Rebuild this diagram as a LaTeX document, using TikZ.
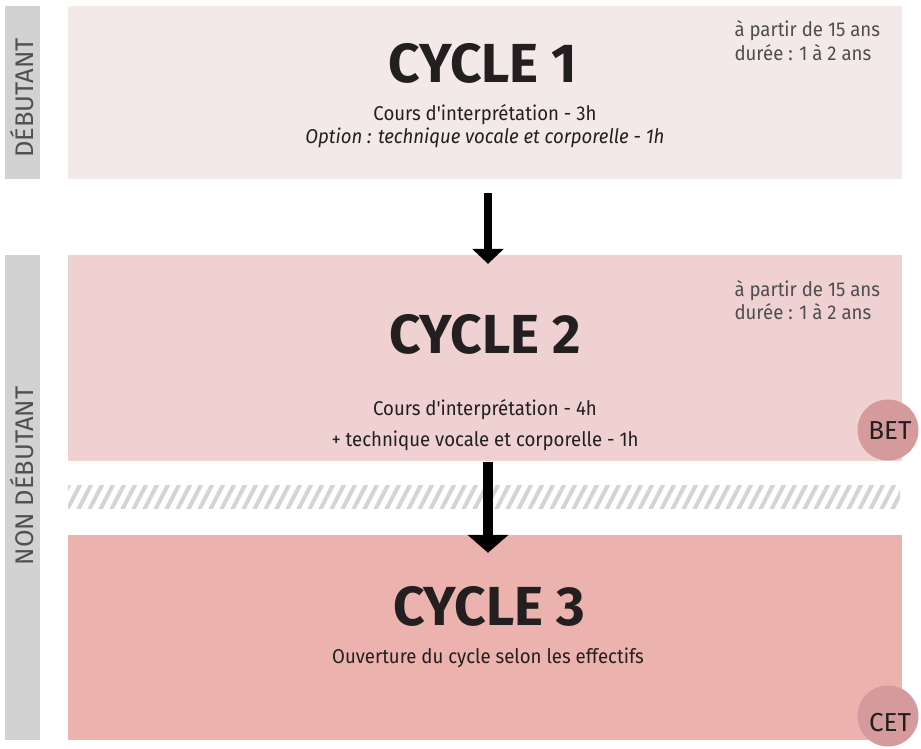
\documentclass[tikz,border=0pt]{standalone}
\usepackage{fontspec}
\setmainfont{Fira Sans}
\newfontfamily\narrowf{Fira Sans}[FakeStretch=0.93]
\newfontfamily\sidef{Fira Sans}
\newfontfamily\titlef{Fira Sans}
\usetikzlibrary{arrows.meta}
\definecolor{cA}{HTML}{F3E9E9}
\definecolor{cB}{HTML}{EED1D0}
\definecolor{cC}{HTML}{ECB2AD}
\definecolor{cCirc}{HTML}{D49A9C}
\definecolor{cSide}{HTML}{D2D2D2}
\definecolor{cHatch}{HTML}{D4D4D4}
\definecolor{cText}{HTML}{231F20}
\definecolor{cGray}{HTML}{4D4D4F}
\definecolor{cSideText}{HTML}{505050}
\begin{document}
\begin{tikzpicture}[x=1pt,y=-1pt,
  box/.style={rectangle, inner sep=0pt, draw=none},
  sidebox/.style={rectangle, inner sep=0pt, fill=cSide, minimum width=35pt},
  sidelabel/.style={rotate=90, text=cSideText, font=\sidef\fontsize{25.5}{27}\selectfont},
  title/.style={anchor=base, text=cText, font=\titlef\bfseries\fontsize{55}{60}\selectfont},
  sub/.style={anchor=base, text=cText, font=\narrowf\fontsize{20}{22}\selectfont},
  info/.style={anchor=base west, text=cGray, font=\narrowf\fontsize{20}{22}\selectfont},
  badge/.style={circle, fill=cCirc, inner sep=0pt, minimum size=61pt},
  badgetext/.style={text=cText, font=\sidef\fontsize{26}{28}\selectfont}
]
\useasboundingbox (0,0) rectangle (921,748);
\fill[white] (0,0) rectangle (921,748);

% side bars
\node[sidebox, minimum height=173pt] (s1) at (22.5,92.5) {};
\node[sidebox, minimum height=485pt] (s2) at (22.5,497.5) {};
\node[sidelabel] (s1l) at (22.5,98) {DÉBUTANT};
\node[sidelabel] (s2l) at (22.5,476) {NON DÉBUTANT};

% boxes
\node[box, fill=cA, minimum width=834pt, minimum height=173pt] (b1) at (485,92.5) {};
\node[box, fill=cB, minimum width=834pt, minimum height=206pt] (b2) at (485,358) {};
\node[box, fill=cC, minimum width=834pt, minimum height=205pt] (b3) at (485,637.5) {};

% hatch band
\begin{scope}
  \clip (68,485) rectangle (900,508);
  \foreach \x in {56,67,...,910} {
    \draw[cHatch, line width=4pt] (\x,510) -- (\x+14,483);
  }
\end{scope}

% texts cycle 1
\node[title] (t1) at (483,82) {CYCLE 1};
\node[sub] (t1a) at (485,120) {Cours d'interprétation - 3h};
\node[sub, font=\narrowf\itshape\fontsize{20}{22}\selectfont] (t1b) at (485,143) {Option : technique vocale et corporelle - 1h};
\node[info] (i1a) at (731,36) {à partir de 15 ans};
\node[info] (i1b) at (731,60) {durée : 1 à 2 ans};

% texts cycle 2
\node[title] (t2) at (485,353) {CYCLE 2};
\node[sub] (t2a) at (485,415) {Cours d'interprétation - 4h};
\node[sub] (t2b) at (485,446) {+ technique vocale et corporelle - 1h};
\node[info] (i2a) at (731,296) {à partir de 15 ans};
\node[info] (i2b) at (731,319) {durée : 1 à 2 ans};

% texts cycle 3
\node[title] (t3) at (489,625) {CYCLE 3};
\node[sub] (t3a) at (488,663) {Ouverture du cycle selon les effectifs};

% arrows
\draw[line width=8pt, -{Triangle[width=31pt,length=15pt]}, shorten <=14pt, shorten >=-9pt]
  ([xshift=3pt]b1.south) -- ([xshift=3pt]b2.north);
\draw[line width=10pt, -{Triangle[width=40pt,length=18pt]}, shorten <=1pt, shorten >=-18pt]
  ([xshift=3pt]b2.south) -- ([xshift=3pt]b3.north);

% badges
\node[badge] (bet) at (888,430) {};
\node[badgetext] (betl) at (890,431) {BET};
\node[badge] (cet) at (888,716) {};
\node[badgetext] (cetl) at (890,723) {CET};
\end{tikzpicture}
\end{document}
